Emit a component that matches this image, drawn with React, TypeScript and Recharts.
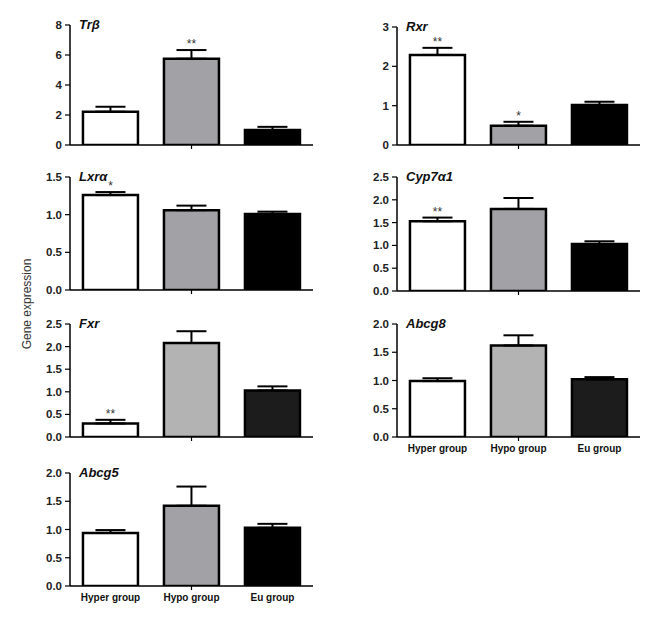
import React from 'react';
import { ComposedChart, Bar, XAxis, YAxis, ErrorBar, Line, LabelList, Cell } from 'recharts';

const groups = ['Hyper group', 'Hypo group', 'Eu group'];

const trbMean = [2.22, 5.75, 1.0];
const trbErr = [0.33, 0.58, 0.21];
const trbSig = ['', '**', ''];

const rxrMean = [2.29, 0.49, 1.02];
const rxrErr = [0.18, 0.1, 0.08];
const rxrSig = ['**', '*', ''];

const lxrMean = [1.26, 1.06, 1.01];
const lxrErr = [0.04, 0.06, 0.03];
const lxrSig = ['*', '', ''];

const cypMean = [1.53, 1.8, 1.03];
const cypErr = [0.08, 0.24, 0.06];
const cypSig = ['**', '', ''];

const fxrMean = [0.3, 2.08, 1.03];
const fxrErr = [0.08, 0.26, 0.09];
const fxrSig = ['**', '', ''];

const abcg8Mean = [0.99, 1.62, 1.02];
const abcg8Err = [0.05, 0.18, 0.04];
const abcg8Sig = ['', '', ''];

const abcg5Mean = [0.94, 1.42, 1.03];
const abcg5Err = [0.05, 0.34, 0.07];
const abcg5Sig = ['', '', ''];

const ticks8 = [0, 2, 4, 6, 8];
const ticks3 = [0, 1, 2, 3];
const ticks15 = [0, 0.5, 1.0, 1.5];
const ticks25 = [0, 0.5, 1.0, 1.5, 2.0, 2.5];
const ticks20 = [0, 0.5, 1.0, 1.5, 2.0];

const colorsA = ['#ffffff', '#a2a2a6', '#000000'];
const colorsB = ['#ffffff', '#b3b3b3', '#1c1c1c'];

const FONT = 'Arial, "Liberation Sans", Helvetica, sans-serif';

type PanelProps = {
  title: string;
  means: number[];
  errs: number[];
  sigs: string[];
  colors: string[];
  ticks: number[];
  decimals: number;
  left: number;
  plotTop: number;
  plotH: number;
  showLabels: boolean;
};

const Panel = ({ title, means, errs, sigs, colors, ticks, decimals, left, plotTop, plotH, showLabels }: PanelProps) => {
  const data = groups.map((g, i) => ({
    group: g,
    mean: means[i],
    err: [0, errs[i]],
    top: means[i] + errs[i],
    sig: sigs[i],
  }));
  const marginTop = 10;
  const xH = 30;
  const width = 330;
  const height = marginTop + plotH + xH;
  const renderXTick = (props: any) => {
    const { x, y, payload, index } = props;
    return (
      <g>
        {index === 1 ? <line x1={x} x2={x} y1={y} y2={y + 4} stroke="#000" strokeWidth={1.2} /> : null}
        {showLabels ? (
          <text x={x} y={y + 15} textAnchor="middle" fontSize={10} fontWeight="bold" fill="#111" fontFamily={FONT}>
            {payload.value}
          </text>
        ) : null}
      </g>
    );
  };
  const renderYTick = (props: any) => {
    const { x, y, payload } = props;
    return (
      <text x={x} y={y} dy={4} textAnchor="end" fontSize={11.5} fontWeight="bold" fill="#222" fontFamily={FONT}>
        {Number(payload.value).toFixed(decimals)}
      </text>
    );
  };
  return (
    <div style={{ position: 'absolute', left, top: plotTop - marginTop, width, height }}>
      <ComposedChart
        width={width}
        height={height}
        data={data}
        margin={{ top: marginTop, right: 17, left: 0, bottom: 0 }}
        barCategoryGap="16%"
      >
        <XAxis
          dataKey="group"
          height={xH}
          axisLine={{ stroke: '#000', strokeWidth: 1.5 }}
          tickLine={false}
          tickSize={0}
          tickMargin={0}
          tick={renderXTick}
          interval={0}
        />
        <YAxis
          width={70}
          domain={[0, ticks[ticks.length - 1]]}
          ticks={ticks}
          interval={0}
          allowDataOverflow
          axisLine={{ stroke: '#000', strokeWidth: 1.5 }}
          tickLine={{ stroke: '#000', strokeWidth: 1.2 }}
          tickSize={5}
          tickMargin={3}
          tick={renderYTick}
        />
        <Bar dataKey="mean" stroke="#000" strokeWidth={2.5} isAnimationActive={false}>
          {data.map((d, i) => (
            <Cell key={d.group} fill={colors[i]} />
          ))}
          <ErrorBar dataKey="err" width={15} stroke="#000" strokeWidth={2} />
        </Bar>
        <Line
          dataKey="top"
          stroke="none"
          dot={false}
          activeDot={false}
          isAnimationActive={false}
          legendType="none"
        >
          <LabelList dataKey="sig" position="top" offset={2} style={{ fontSize: 12, fill: '#333', fontFamily: FONT }} />
        </Line>
      </ComposedChart>
      <div
        style={{
          position: 'absolute',
          left: 79,
          top: marginTop - 8,
          lineHeight: '16px',
          fontSize: 13,
          fontWeight: 'bold',
          fontStyle: 'italic',
          fontFamily: FONT,
          color: '#111',
          whiteSpace: 'nowrap',
        }}
      >
        {title}
      </div>
    </div>
  );
};

export default function App() {
  const L = 0;
  const R = 327;
  return (
    <div style={{ position: 'absolute', left: 0, top: 0, width: 660, height: 619, background: '#fff', overflow: 'hidden' }}>
      <Panel title="Trβ" means={trbMean} errs={trbErr} sigs={trbSig} colors={colorsA} ticks={ticks8} decimals={0} left={L} plotTop={25} plotH={120} showLabels={false} />
      <Panel title="Rxr" means={rxrMean} errs={rxrErr} sigs={rxrSig} colors={colorsA} ticks={ticks3} decimals={0} left={R} plotTop={27} plotH={118} showLabels={false} />
      <Panel title="Lxrα" means={lxrMean} errs={lxrErr} sigs={lxrSig} colors={colorsA} ticks={ticks15} decimals={1} left={L} plotTop={177} plotH={113} showLabels={false} />
      <Panel title="Cyp7α1" means={cypMean} errs={cypErr} sigs={cypSig} colors={colorsA} ticks={ticks25} decimals={1} left={R} plotTop={177} plotH={114} showLabels={false} />
      <Panel title="Fxr" means={fxrMean} errs={fxrErr} sigs={fxrSig} colors={colorsB} ticks={ticks25} decimals={1} left={L} plotTop={324} plotH={113} showLabels={false} />
      <Panel title="Abcg8" means={abcg8Mean} errs={abcg8Err} sigs={abcg8Sig} colors={colorsB} ticks={ticks20} decimals={1} left={R} plotTop={324} plotH={113} showLabels={true} />
      <Panel title="Abcg5" means={abcg5Mean} errs={abcg5Err} sigs={abcg5Sig} colors={colorsA} ticks={ticks20} decimals={1} left={L} plotTop={473} plotH={113} showLabels={true} />
      <svg style={{ position: 'absolute', left: 0, top: 0 }} width={60} height={619}>
        <text
          x={28}
          y={304}
          transform="rotate(-90 28 304)"
          textAnchor="middle"
          dominantBaseline="middle"
          fontSize={12}
          fill="#333"
          fontFamily={FONT}
        >
          Gene expression
        </text>
      </svg>
    </div>
  );
}
